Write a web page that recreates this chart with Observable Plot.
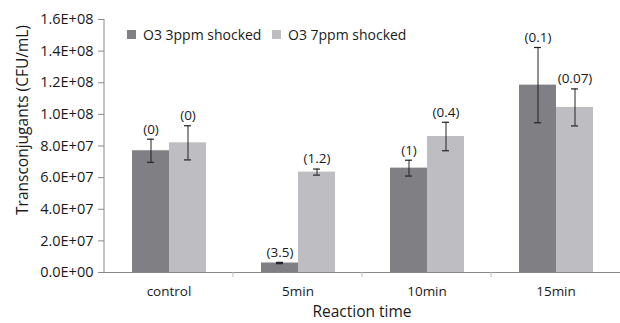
<!DOCTYPE html>
<html><head><meta charset="utf-8">
<script src="https://cdn.jsdelivr.net/npm/d3@7"></script>
<script src="https://cdn.jsdelivr.net/npm/@observablehq/plot@0.6"></script>
<style>
body{margin:0;background:#fff;font-family:"Open Sans",sans-serif;}
#wrap{position:relative;width:620px;height:323px;}
.leg{position:absolute;top:26px;font-size:14px;line-height:18px;color:#1a1a1a;white-space:nowrap;}
.leg span.sw{display:inline-block;width:9px;height:9px;margin-right:7px;vertical-align:1px;}
#ytitle{position:absolute;left:22px;top:120px;transform:translate(-50%,-50%) rotate(-90deg);font-size:15.5px;line-height:16px;color:#1a1a1a;white-space:nowrap;}
#xtitle{position:absolute;left:362px;top:311px;transform:translate(-50%,-50%);font-size:15.5px;line-height:16px;color:#1a1a1a;white-space:nowrap;}
</style></head>
<body><div id="wrap"></div>
<script>
const categories = ["control", "5min", "10min", "15min"];
const series = ["O3 3ppm shocked", "O3 7ppm shocked"];
const means3 = [7.7e7, 6.0e6, 6.6e7, 1.185e8];
const errs3 = [7.3e6, 4e5, 5.0e6, 2.38e7];
const means7 = [8.2e7, 6.35e7, 8.6e7, 1.044e8];
const errs7 = [1.08e7, 1.9e6, 9.0e6, 1.17e7];
const labels3 = ["(0)", "(3.5)", "(1)", "(0.1)"];
const labels7 = ["(0)", "(1.2)", "(0.4)", "(0.07)"];
const yTicks = [0, 2e7, 4e7, 6e7, 8e7, 1e8, 1.2e8, 1.4e8, 1.6e8];
const colors = ["#7f7f84", "#bebec2"];
const yTitle = "Transconjugants (CFU/mL)";
const xTitle = "Reaction time";

const rows = [];
categories.forEach((c, i) => {
  rows.push({cat: c, s: series[0], v: means3[i], e: errs3[i], lab: labels3[i]});
  rows.push({cat: c, s: series[1], v: means7[i], e: errs7[i], lab: labels7[i]});
});

function fmt(d) {
  if (d === 0) return "0.0E+00";
  const e = Math.floor(Math.log10(d) + 1e-9);
  const m = d / Math.pow(10, e);
  return m.toFixed(1) + "E+" + String(e).padStart(2, "0");
}

const plot = Plot.plot({
  width: 620, height: 323,
  marginLeft: 104, marginRight: 0, marginTop: 19, marginBottom: 51,
  style: {fontFamily: "Open Sans", fontSize: "13px", color: "#1a1a1a", background: "white", overflow: "visible"},
  fx: {domain: categories, padding: 0, axis: null},
  x: {domain: series, paddingInner: 0, paddingOuter: 0.743, axis: null},
  y: {domain: [0, 1.6e8], axis: null},
  color: {domain: series, range: colors},
  marks: [
    Plot.axisY({ticks: yTicks, tickFormat: fmt, tickSize: 6, tickPadding: 5, stroke: "#8a8a8a", fill: "#1a1a1a", label: null, fontSize: 14.5}),
    Plot.axisFx({anchor: "bottom", tickSize: 0, tickPadding: 14, label: null, fill: "#1a1a1a", fontSize: 13.5}),
    Plot.barY(rows, {fx: "cat", x: "s", y: "v", fill: "s", insetLeft: 0, insetRight: 0}),
    Plot.ruleY([0], {stroke: "#8a8a8a"}),
    Plot.ruleX(rows, {fx: "cat", x: "s", y1: d => d.v - d.e, y2: d => d.v + d.e, stroke: "#222", strokeWidth: 1}),
    Plot.tickY(rows, {fx: "cat", x: "s", y: d => d.v - d.e, stroke: "#222", insetLeft: 15, insetRight: 15, strokeWidth: 1.2}),
    Plot.tickY(rows, {fx: "cat", x: "s", y: d => d.v + d.e, stroke: "#222", insetLeft: 15, insetRight: 15, strokeWidth: 1.2}),
    Plot.text(rows, {fx: "cat", x: "s", y: d => d.v + d.e, text: "lab", dy: -10, fill: "#1a1a1a", fontSize: 13.5})
  ]
});

const wrap = document.getElementById("wrap");
wrap.appendChild(plot);

// Excel-style axis line and category separators, placed from Plot's own scales
const fxS = plot.scale("fx"), yS = plot.scale("y");
const svg = d3.select(plot);
const y0 = yS.apply(0), yTop = yS.apply(1.6e8);
const left = fxS.apply(categories[0]);
svg.append("line").attr("x1", left).attr("x2", left).attr("y1", yTop).attr("y2", y0).attr("stroke", "#8a8a8a");
categories.slice(1).forEach(c => {
  const x = fxS.apply(c);
  svg.append("line").attr("x1", x).attr("x2", x).attr("y1", y0).attr("y2", y0 + 5).attr("stroke", "#bbb");
});

const legLeft = [127, 272];
series.forEach((s, i) => {
  const item = document.createElement("div");
  item.className = "leg";
  item.style.left = legLeft[i] + "px";
  item.innerHTML = `<span class="sw" style="background:${colors[i]}"></span>${s}`;
  wrap.appendChild(item);
});

const yt = document.createElement("div"); yt.id = "ytitle"; yt.textContent = yTitle; wrap.appendChild(yt);
const xt = document.createElement("div"); xt.id = "xtitle"; xt.textContent = xTitle; wrap.appendChild(xt);
</script>
</body></html>
